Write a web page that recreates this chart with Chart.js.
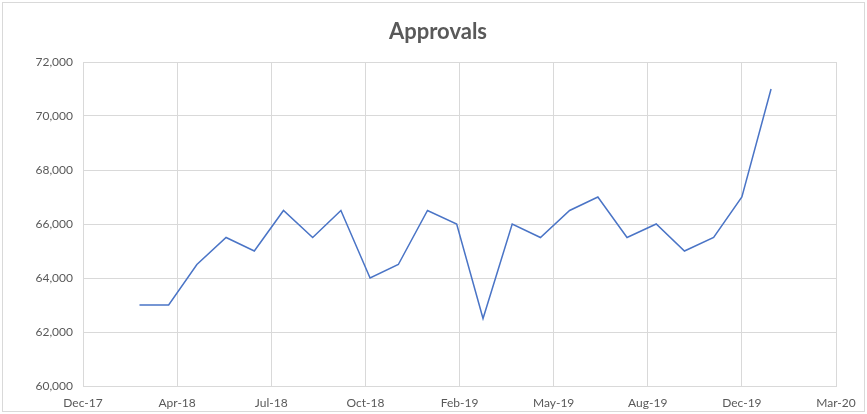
<!DOCTYPE html>
<html>
<head>
<meta charset="utf-8">
<script src="https://cdn.jsdelivr.net/npm/chart.js@4/dist/chart.umd.min.js"></script>
<style>
  html, body { margin: 0; padding: 0; background: #ffffff; }
  #wrap { width: 867px; height: 414px; position: relative; }
</style>
</head>
<body>
<div id="wrap"><canvas id="approvals_chart"></canvas></div>
<script>
// monthly observations (first day of each month)
const months = ['2018-03', '2018-04', '2018-05', '2018-06', '2018-07', '2018-08', '2018-09',
    '2018-10', '2018-11', '2018-12', '2019-01', '2019-02', '2019-03', '2019-04', '2019-05',
    '2019-06', '2019-07', '2019-08', '2019-09', '2019-10', '2019-11', '2019-12', '2020-01'];
const approvals = [63000, 63000, 64500, 65500, 65000, 66500, 65500,
    66500, 64000, 64500, 66500, 66000, 62500, 66000, 65500,
    66500, 67000, 65500, 66000, 65000, 65500, 67000, 71000];
const yTicks = [60000, 62000, 64000, 66000, 68000, 70000, 72000];
const monthNames = ['Jan', 'Feb', 'Mar', 'Apr', 'May', 'Jun', 'Jul', 'Aug', 'Sep', 'Oct', 'Nov', 'Dec'];

// Excel-style date axis: days counted from 31-Dec-2017, major unit 100 days
const axisStart = Date.UTC(2017, 11, 31);
const DAY = 86400000;

function toDays(ym)
{
    const parts = ym.split('-');
    return Math.round((Date.UTC(+parts[0], +parts[1] - 1, 1) - axisStart) / DAY);
}

function dayLabel(v)
{
    const d = new Date(axisStart + v * DAY);
    return monthNames[d.getUTCMonth()] + '-' + String(d.getUTCFullYear()).slice(2);
}

const points = months.map((m, i) => ({ x: toDays(m), y: approvals[i] }));

// outer border + title centred on the whole chart, like Excel does
const frame = {
    id: 'frame',
    beforeDraw(chart) {
        const ctx = chart.ctx;
        ctx.save();
        ctx.strokeStyle = '#d9d9d9';
        ctx.lineWidth = 1;
        ctx.strokeRect(2.5, 2.5, chart.width - 5, chart.height - 5);
        ctx.fillStyle = '#595959';
        ctx.font = 'bold 22px Lato, "Open Sans", sans-serif';
        ctx.textAlign = 'center';
        ctx.textBaseline = 'middle';
        ctx.fillText('Approvals', 438, 32);
        ctx.restore();
    }
};

(function approvals_chart()
{
    const el = document.getElementById('approvals_chart');
    const myChart = new Chart(el, {
        type: 'line',
        data: {
            datasets: [{
                label: 'Approvals',
                data: points,
                borderColor: '#4a74c6',
                borderWidth: 1.5,
                pointRadius: 0,
                tension: 0,
                fill: false
            }]
        },
        options: {
            responsive: true,
            maintainAspectRatio: false,
            animation: false,
            layout: { padding: { left: 0, right: 31, top: 62, bottom: 0 } },
            plugins: {
                legend: { display: false },
                tooltip: { enabled: false },
                title: { display: false }
            },
            scales: {
                x: {
                    type: 'linear',
                    min: 0,
                    max: 800,
                    grid: { color: '#d9d9d9', drawTicks: false },
                    border: { color: '#d9d9d9' },
                    ticks: {
                        stepSize: 100,
                        autoSkip: false,
                        maxRotation: 0,
                        padding: 10,
                        color: '#595959',
                        font: { family: 'Lato, "Open Sans", sans-serif', size: 12 },
                        callback: (v) => dayLabel(v)
                    },
                    afterFit: (s) => { s.height = 28; }
                },
                y: {
                    min: 60000,
                    max: 72000,
                    grid: { color: '#d9d9d9', drawTicks: false },
                    border: { display: false },
                    afterBuildTicks: (s) => { s.ticks = yTicks.map(v => ({ value: v })); },
                    ticks: {
                        padding: 10,
                        color: '#595959',
                        font: { family: 'Lato, "Open Sans", sans-serif', size: 12 },
                        callback: (v) => v.toLocaleString('en-US')
                    },
                    afterFit: (s) => { s.width = 83; }
                }
            }
        },
        plugins: [frame]
    });
})();
</script>
</body>
</html>
